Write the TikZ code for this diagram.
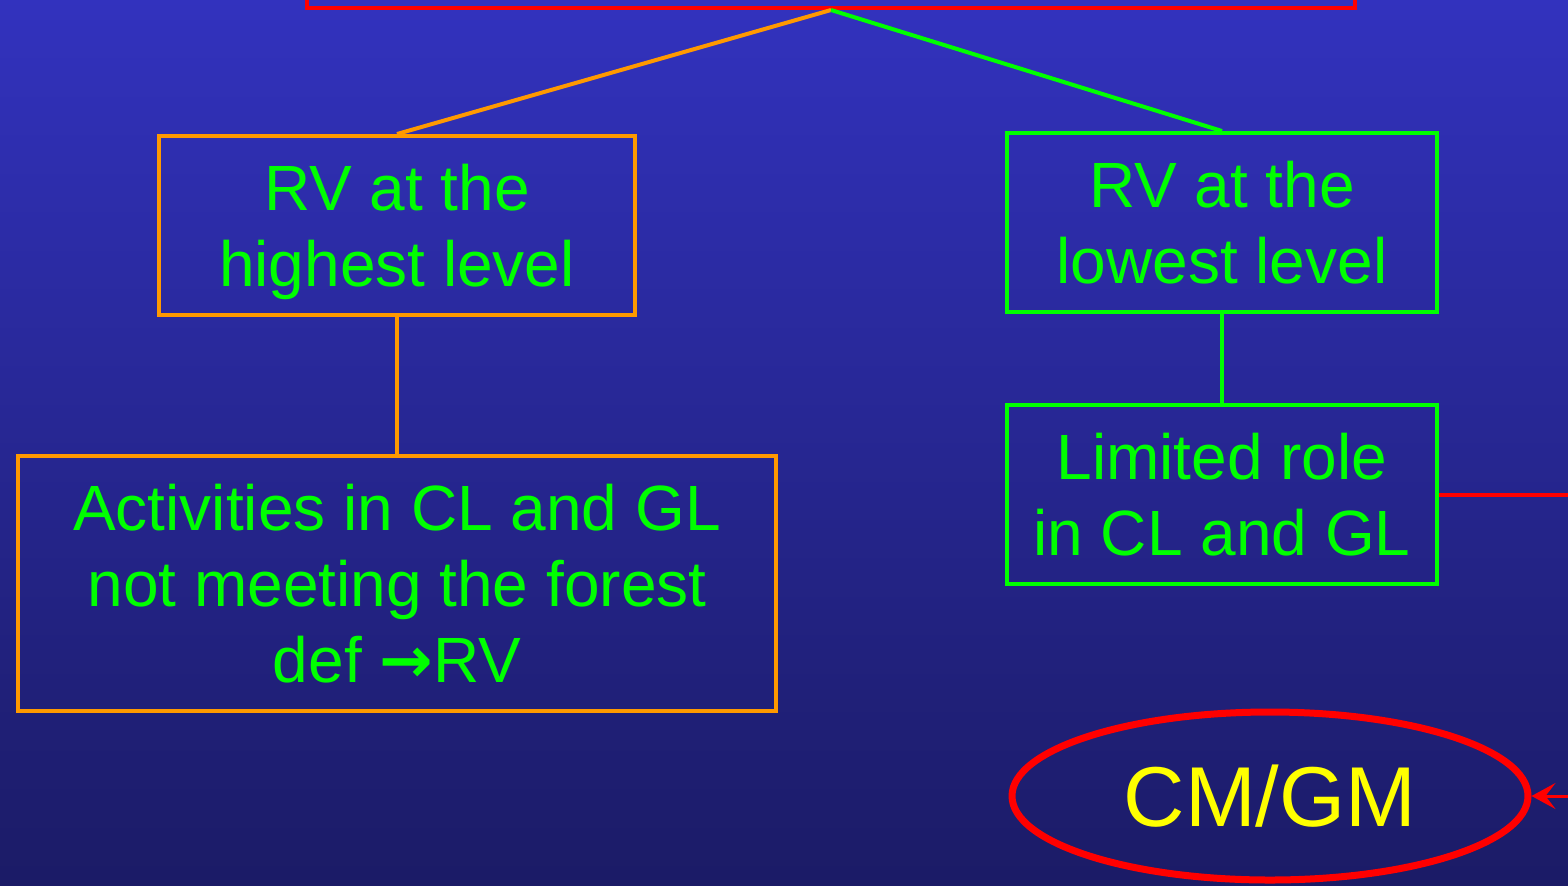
\documentclass[tikz,border=0pt]{standalone}
\usepackage{fontspec}
\setmainfont{Liberation Sans}
\newfontfamily\arrowfont{DejaVu Sans}
\usetikzlibrary{positioning,shapes.geometric,arrows.meta}
\definecolor{bgtop}{RGB}{50,50,190}
\definecolor{bgbottom}{RGB}{27,27,102}
\definecolor{lineorange}{RGB}{255,153,0}
\definecolor{linegreen}{RGB}{0,255,0}
\definecolor{textyellow}{RGB}{255,255,0}
\tikzstyle{LevelBox} = [draw, line width=2pt, text=linegreen, align=center, inner sep=0pt, font=\fontsize{32}{38}\selectfont]
\tikzstyle{HighBox} = [LevelBox, draw=lineorange]
\tikzstyle{LowBox} = [LevelBox, draw=linegreen]

\begin{document}
\begin{tikzpicture}[x=0.5pt, y=-0.5pt, link/.style={line width=2pt}]

    \useasboundingbox (0,0) rectangle (1568,885);
    \shade[top color=bgtop, bottom color=bgbottom] (0,0) rectangle (1568,885);
    \clip (0,0) rectangle (1568,885);

    \node[draw=red, line width=2pt, minimum width=524pt, minimum height=50pt] (top) at (831,-42) {};

    \node[HighBox, minimum width=238pt, minimum height=89.5pt, text depth=0pt] (high) at (397,225.5) {RV at the\\highest level};
    \node[LowBox, minimum width=215pt, minimum height=89.5pt] (low) at (1222,222.5) {RV at the\\lowest level};
    \node[HighBox, minimum width=379pt, minimum height=127.5pt] (high-act) at (397,583.5) {Activities in CL and GL\\not meeting the forest\\def {\arrowfont\bfseries →}RV};
    \node[LowBox, minimum width=215pt, minimum height=89.5pt] (low-role) at (1222,494.5) {Limited role\\in CL and GL};
    \node[ellipse, draw=red, line width=3.5pt, inner sep=0pt, minimum width=258pt, minimum height=84pt, text=textyellow, font=\fontsize{42.5}{50}\selectfont] (cmgm) at (1270,796) {CM/GM};

    \coordinate (red-out) at (1568,494.5);
    \coordinate (red-in) at (1568,796);

    \draw[link, lineorange] (top.south) -- (high.north);
    \draw[link, linegreen] (top.south) -- (low.north);
    \draw[link, lineorange] (high.south) -- (high-act.north);
    \draw[link, linegreen] (low.south) -- (low-role.north);
    \draw[link, red] (low-role.east) -- (red-out);
    \draw[red, line width=1.5pt, -{Stealth[length=12pt, width=13pt, inset=5pt]}] (red-in) -- (cmgm.east);
  \end{tikzpicture}
\end{document}
